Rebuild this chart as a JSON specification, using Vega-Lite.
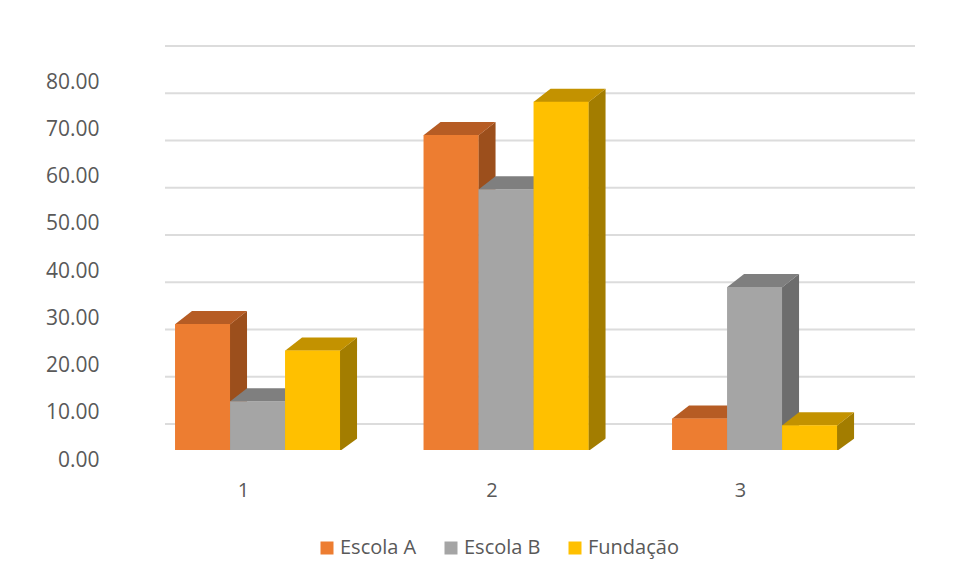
{
  "$schema": "https://vega.github.io/schema/vega-lite/v6.json",
  "width": 750,
  "height": 378,
  "autosize": {"type": "none"},
  "padding": {"left": 165, "top": 72, "right": 40, "bottom": 127},
  "background": "white",
  "config": {
    "view": {"stroke": null},
    "font": "Open Sans",
    "axis": {"labelFont": "Open Sans", "labelColor": "#595959", "labelFontSize": 20},
    "legend": {"labelFont": "Open Sans", "labelColor": "#595959", "labelFontSize": 20}
  },
  "data": {
    "values": [
      {"grupo": "1", "serie": "Escola A", "valor": 26.67},
      {"grupo": "1", "serie": "Escola B", "valor": 10.34},
      {"grupo": "1", "serie": "Fundação", "valor": 21.05},
      {"grupo": "2", "serie": "Escola A", "valor": 66.67},
      {"grupo": "2", "serie": "Escola B", "valor": 55.17},
      {"grupo": "2", "serie": "Fundação", "valor": 73.68},
      {"grupo": "3", "serie": "Escola A", "valor": 6.67},
      {"grupo": "3", "serie": "Escola B", "valor": 34.48},
      {"grupo": "3", "serie": "Fundação", "valor": 5.26}
    ]
  },
  "encoding": {
    "x": {
      "field": "grupo", "type": "nominal",
      "scale": {"paddingInner": 0.336, "paddingOuter": 0.177, "align": 0.114},
      "axis": {"title": null, "labelAngle": 0, "domain": false, "ticks": false, "labelOffset": -14, "labelPadding": 30}
    },
    "xOffset": {"field": "serie", "type": "nominal", "scale": {"paddingInner": 0, "paddingOuter": 0}},
    "y": {
      "field": "valor", "type": "quantitative",
      "scale": {"domain": [0, 80], "nice": false},
      "axis": {"title": null, "values": [0, 10, 20, 30, 40, 50, 60, 70, 80], "format": ".2f", "grid": false, "domain": false, "ticks": false, "labelPadding": 66, "labelOffset": 10, "labelFontSize": 21}
    }
  },
  "layer": [
    {
      "data": {"values": [{"v": 0}, {"v": 10}, {"v": 20}, {"v": 30}, {"v": 40}, {"v": 50}, {"v": 60}, {"v": 70}, {"v": 80}]},
      "mark": {"type": "rule", "color": "#DCDCDC", "strokeWidth": 1.8, "yOffset": -26},
      "encoding": {"x": null, "xOffset": null, "y": {"field": "v", "type": "quantitative"}}
    },
    {
      "mark": {"type": "point", "filled": true, "opacity": 1, "strokeWidth": 0, "size": 10000, "clip": true,
        "shape": "M0.545,0.01L0.89,-0.26L0.89,9L0.545,9.3Z"},
      "encoding": {
        "color": {"field": "serie", "type": "nominal", "legend": null,
          "scale": {"domain": ["Escola A", "Escola B", "Fundação"], "range": ["#9C4F1C", "#6D6D6D", "#A37D00"]}}
      }
    },
    {
      "mark": {"type": "point", "filled": true, "opacity": 1, "strokeWidth": 0, "size": 10000,
        "shape": "M0.55,0.02L0.95,0.02L0.95,-0.27Z", "fill": "white", "color": "white"},
      "encoding": {"y": {"datum": 0}}
    },
    {
      "mark": {"type": "point", "filled": true, "opacity": 1, "strokeWidth": 0, "size": 10000,
        "shape": "M-0.55,0.005L0.555,0.005L0.89,-0.26L-0.21,-0.26Z"},
      "encoding": {
        "color": {"field": "serie", "type": "nominal", "legend": null,
          "scale": {"domain": ["Escola A", "Escola B", "Fundação"], "range": ["#B65C24", "#7F7F7F", "#C39200"]}}
      }
    },
    {
      "mark": {"type": "bar"},
      "encoding": {
        "color": {"field": "serie", "type": "nominal",
          "scale": {"domain": ["Escola A", "Escola B", "Fundação"], "range": ["#ED7D31", "#A5A5A5", "#FFC000"]},
          "legend": {"title": null, "orient": "none", "legendX": 152, "legendY": 466, "direction": "horizontal",
            "symbolType": "square", "symbolSize": 169, "symbolStrokeWidth": 0, "columnPadding": 24, "labelOffset": 3}}
      }
    }
  ],
  "resolve": {"scale": {"color": "independent"}}
}
